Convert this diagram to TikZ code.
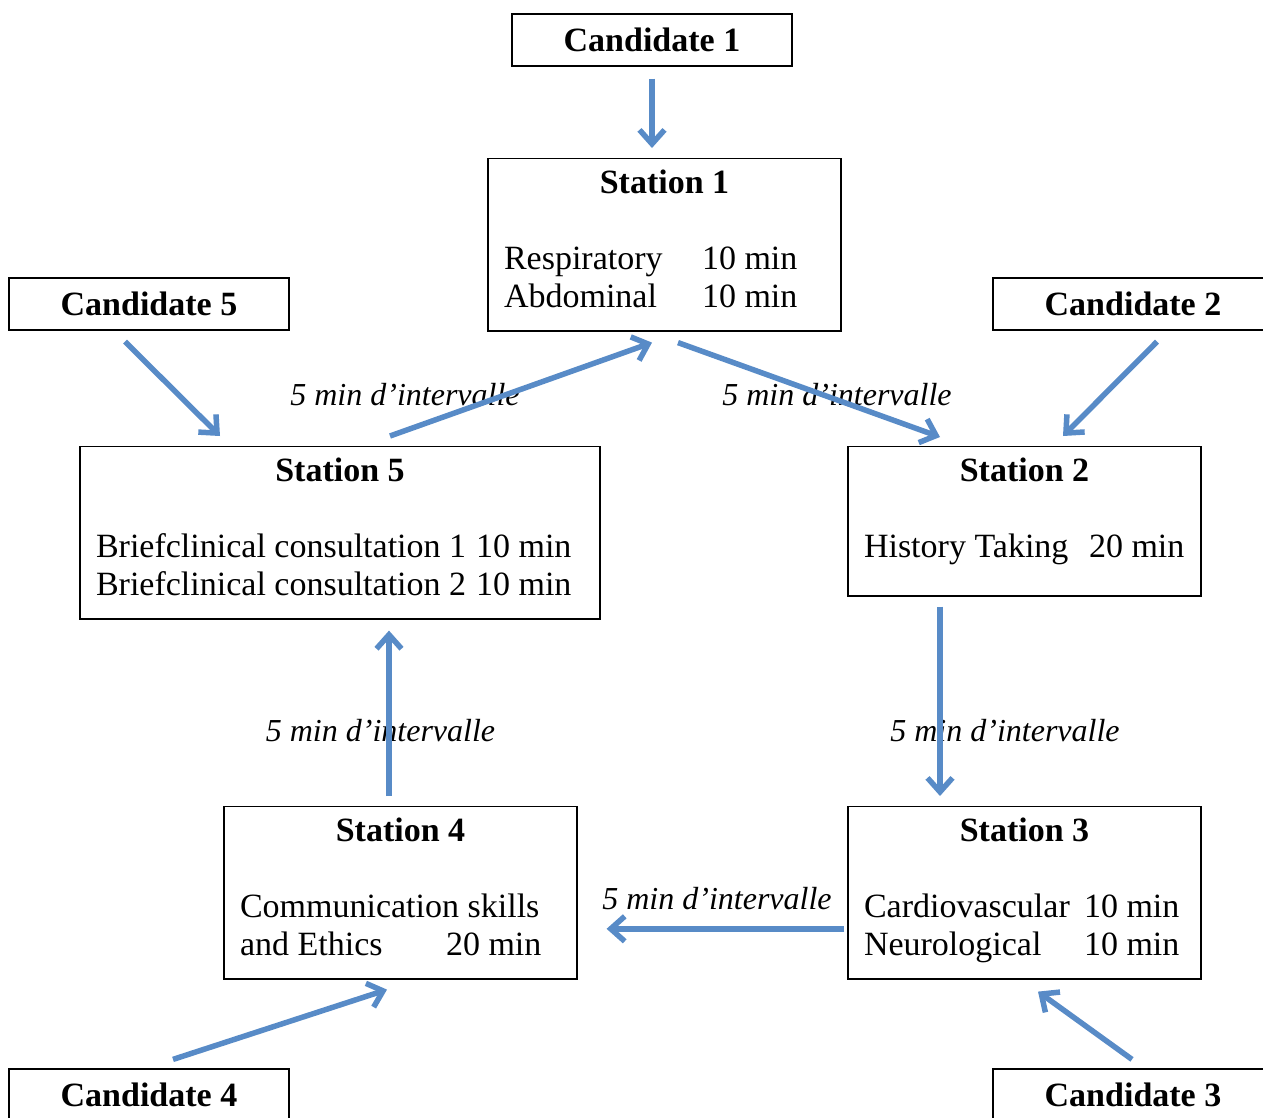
\documentclass[tikz,border=0pt]{standalone}
\usepackage{fontspec}
\setmainfont{Liberation Serif}
\usetikzlibrary{arrows.meta}
\definecolor{arrowblue}{RGB}{88,139,199}
\begin{document}
\begin{tikzpicture}[x=1pt,y=-1pt,
  cand/.style={draw,line width=1.2pt,minimum width=280,minimum height=52,inner sep=0,font=\fontsize{34}{38}\selectfont\bfseries},
  station/.style={draw,line width=1.2pt,anchor=north,inner xsep=16,inner ysep=8.4,text depth=129,font=\fontsize{34}{38}\selectfont},
  pause/.style={font=\fontsize{32}{38}\selectfont\itshape},
  flow/.style={draw=arrowblue,line width=5.5pt,-{Straight Barb[length=14pt,width=25pt]}}]
\clip (0,0) rectangle (1263,1117);
\node[cand] (c1) at (652,40) {Candidate 1};
\node[cand] (c5) at (149,304) {Candidate 5};
\node[cand] (c2) at (1133,304) {Candidate 2};
\node[cand] (c4) at (149,1095) {Candidate 4};
\node[cand] (c3) at (1133,1095) {Candidate 3};
\node[station] (st1) at (664.5,158) {\begin{tabular}[t]{@{}p{198pt}@{}p{123pt}@{}}
  \multicolumn{2}{c}{\bfseries Station 1}\\[38pt]
  Respiratory & 10 min\\
  Abdominal & 10 min
\end{tabular}};
\node[station] (st5) at (340,446) {\begin{tabular}[t]{@{}p{380pt}@{}p{108pt}@{}}
  \multicolumn{2}{c}{\bfseries Station 5}\\[38pt]
  Briefclinical consultation 1 & 10 min\\
  Briefclinical consultation 2 & 10 min
\end{tabular}};
\node[station,text depth=106] (st2) at (1024.5,446) {\begin{tabular}[t]{@{}p{225pt}@{}p{96pt}@{}}
  \multicolumn{2}{c}{\bfseries Station 2}\\[38pt]
  History Taking & 20 min
\end{tabular}};
\node[station] (st4) at (400.5,806) {\begin{tabular}[t]{@{}p{206pt}@{}p{115pt}@{}}
  \multicolumn{2}{c}{\bfseries Station 4}\\[38pt]
  \multicolumn{2}{@{}l@{}}{Communication skills}\\
  and Ethics & 20 min
\end{tabular}};
\node[station] (st3) at (1024.5,806) {\begin{tabular}[t]{@{}p{220pt}@{}p{101pt}@{}}
  \multicolumn{2}{c}{\bfseries Station 3}\\[38pt]
  Cardiovascular & 10 min\\
  Neurological & 10 min
\end{tabular}};
\node[pause] (p51) at (405,395) {5 min d’intervalle};
\node[pause] (p12) at (837,395) {5 min d’intervalle};
\node[pause] (p45) at (380.5,731) {5 min d’intervalle};
\node[pause] (p23) at (1005,731) {5 min d’intervalle};
\node[pause] (p34) at (717,899) {5 min d’intervalle};
\draw[flow] ([shift={(0,12)}]c1.south) -- ([shift={(-12.5,-10)}]st1.north);
\draw[flow] ([shift={(50,-10)}]st5.north) -- ([shift={(-12.5,11)}]st1.south);
\draw[flow] ([shift={(13.5,11)}]st1.south) -- ([shift={(-84.5,-9)}]st2.north);
\draw[flow] ([shift={(24,11)}]c2.south) -- ([shift={(38.5,-10)}]st2.north);
\draw[flow] ([shift={(-24,11)}]c5.south) -- ([shift={(-120,-10)}]st5.north);
\draw[flow] ([shift={(-84.5,10)}]st2.south) -- ([shift={(-84.5,-10)}]st3.north);
\draw[flow] ([shift={(-11.5,-10)}]st4.north) -- ([shift={(49,11)}]st5.south);
\draw[flow] ([shift={(-3,36)}]st3.west) -- ([shift={(29,36)}]st4.east);
\draw[flow] ([shift={(24,-9)}]c4.north) -- ([shift={(-13.5,10)}]st4.south);
\draw[flow] ([shift={(-1,-9)}]c3.north) -- ([shift={(13.5,12)}]st3.south);
\end{tikzpicture}
\end{document}
